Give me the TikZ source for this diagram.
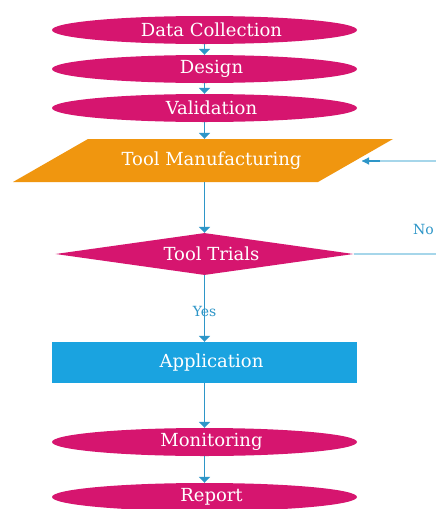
\documentclass[tikz,border=0pt]{standalone}
\usepackage{fontspec}
\setmainfont{DejaVu Serif}
\usetikzlibrary{shapes.geometric,arrows.meta}
\definecolor{mag}{HTML}{D6156F}
\definecolor{org}{HTML}{F0960F}
\definecolor{appblue}{HTML}{1AA3E0}
\definecolor{arr}{HTML}{2E96C8}
\definecolor{fb}{HTML}{A6D6EA}
\newcommand{\shtxt}[1]{\hspace*{14pt}#1}
\tikzset{
  boxfont/.style={font=\fontsize{18}{20}\selectfont},
  oval/.style={ellipse, fill=mag, text=white, minimum width=305pt, minimum height=28pt, inner sep=0pt, boxfont},
  flow/.style={draw=arr, line width=1.8pt, -{Triangle[width=11pt,length=6pt]}},
  fback/.style={draw=fb, line width=1.2pt},
  lbl/.style={text=arr, font=\fontsize{14}{16}\selectfont, inner sep=1pt}
}
\begin{document}
\begin{tikzpicture}[x=1pt,y=-1pt]
\clip (0,0) rectangle (436,509);
\fill[white] (0,0) rectangle (436,509);
\node[oval] (dc) at (204.5,30) {\shtxt{Data Collection}};
\node[oval] (de) at (204.5,69) {\shtxt{Design}};
\node[oval] (va) at (204.5,108) {\shtxt{Validation}};
\fill[org] (88,139) -- (393,139) -- (318,182) -- (13,182) -- cycle;
\node[minimum width=230pt, minimum height=43pt, inner sep=0pt, text=white, boxfont] (tm) at (204.5,160.5) {\shtxt{Tool Manufacturing}};
\node[diamond, aspect=7, inner sep=0pt, fill=mag, text=white, minimum width=298pt, minimum height=42pt, boxfont] (tt) at (204.5,254) {\shtxt{Tool Trials}};
\node[rectangle, fill=appblue, text=white, minimum width=305pt, minimum height=41pt, inner sep=0pt, boxfont] (ap) at (204.5,362.5) {\shtxt{Application}};
\node[oval] (mo) at (204.5,442) {\shtxt{Monitoring}};
\node[oval] (re) at (204.5,497) {\shtxt{Report}};
\draw[flow] (dc) -- (de);
\draw[flow] (de) -- (va);
\draw[flow] (va) -- (tm);
\draw[flow] (tm) -- (tt);
\draw[flow] (tt) -- node[lbl, pos=0.55] (yes) {Yes} (ap);
\draw[flow] (ap) -- (mo);
\draw[flow] (mo) -- (re);
\coordinate (fbr) at (446,254);
\coordinate (fbt) at (446,161);
\coordinate (fbe) at (362,161);
\draw[fback] (tt.east) -- (fbr) -- (fbt) -- (fbe);
\draw[draw=arr, line width=1.2pt, -{Triangle[width=7pt,length=7pt]}] (380,161) -- (fbe);
\node[lbl, anchor=east] (no) at (435,229) {No};
\end{tikzpicture}
\end{document}
